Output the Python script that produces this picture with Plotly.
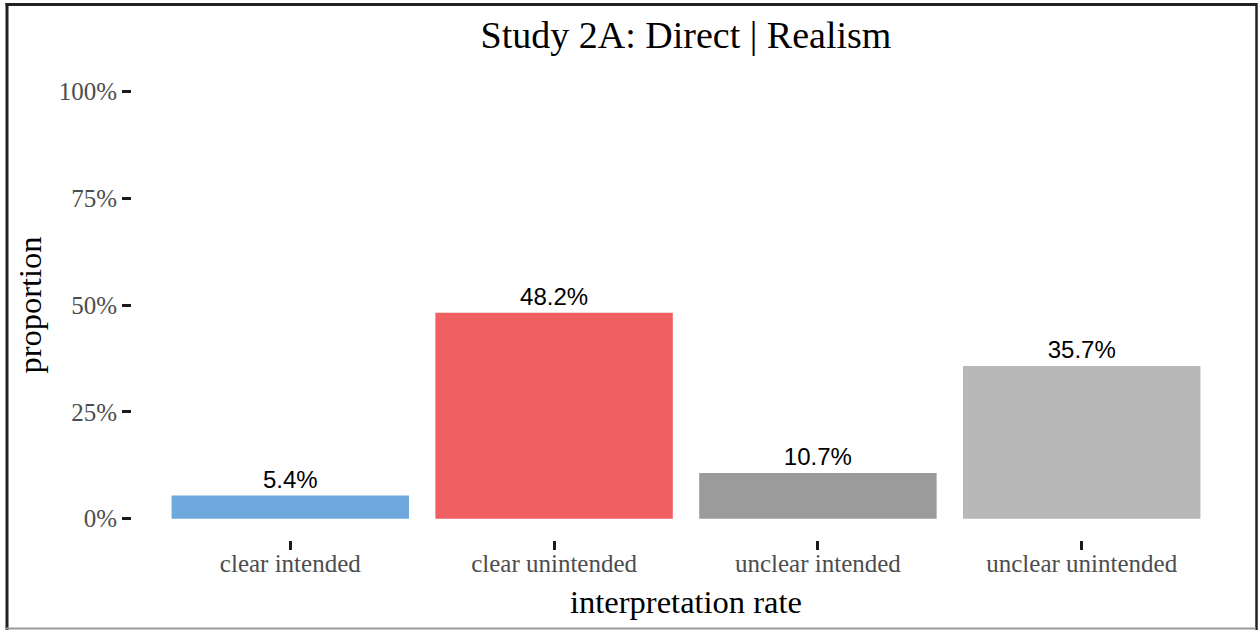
import plotly.graph_objects as go

categories = ["clear intended", "clear unintended", "unclear intended", "unclear unintended"]
proportions = [0.054, 0.482, 0.107, 0.357]
bar_colors = ["#6FA8DC", "#F06062", "#9B9B9B", "#B8B8B8"]
y_tick_vals = [0, 0.25, 0.5, 0.75, 1.0]
y_tick_text = ["0%", "25%", "50%", "75%", "100%"]
title_text = "Study 2A: Direct | Realism"

W, H = 1259, 630
ML, MT = 132, 70
PR, PB = 1240, 540
MR, MB = W - PR, H - PB
PW, PH = PR - ML, PB - MT

def px_x(p):
    return (p - ML) / PW

def px_y(p):
    return (PB - p) / PH

serif = "Liberation Serif, Times New Roman, serif"
sans = "Liberation Sans, Arial, sans-serif"

fig = go.Figure()
fig.add_trace(go.Bar(
    x=categories,
    y=proportions,
    width=0.9,
    marker=dict(color=bar_colors, line=dict(width=0)),
    text=[f"{v*100:.1f}%" for v in proportions],
    textposition="outside",
    textfont=dict(family=sans, size=24, color="black"),
    cliponaxis=False,
    hoverinfo="skip",
))

border = [
    (5.5, 4.5, 1257, 4.5, "#222222", 3),
    (7, 3, 7, 630, "#222222", 3),
    (1256.5, 3, 1256.5, 630, "#222222", 2.5),
    (6, 628.5, 1256, 628.5, "#9a9a9a", 2),
]
shapes = [
    dict(type="line", xref="paper", yref="paper",
         x0=px_x(a), y0=px_y(b), x1=px_x(c), y1=px_y(d),
         line=dict(color=col, width=w))
    for a, b, c, d, col, w in border
]

fig.update_layout(
    width=W, height=H,
    margin=dict(l=ML, r=MR, t=MT, b=MB, autoexpand=False),
    paper_bgcolor="white", plot_bgcolor="white",
    showlegend=False,
    title=dict(text=title_text, x=0.5, xref="paper", xanchor="center",
               y=1 - 35 / H, yref="container", yanchor="middle",
               font=dict(family=serif, size=38, color="black")),
    shapes=shapes,
    xaxis=dict(
        range=[-0.6, 3.6], showgrid=False, zeroline=False, showline=False,
        ticks="outside", ticklen=9, tickwidth=3, tickcolor="#1a1a1a",
        tickfont=dict(family=serif, size=25, color="#4d4d4d"),
        ticklabelstandoff=-8,
        title=dict(text="interpretation rate", standoff=14,
                   font=dict(family=serif, size=32.5, color="black")),
        fixedrange=True,
    ),
    yaxis=dict(
        range=[-0.05, 1.05], showgrid=False, zeroline=False, showline=False,
        tickvals=y_tick_vals, ticktext=y_tick_text,
        ticks="outside", ticklen=9, tickwidth=3, tickcolor="#1a1a1a",
        tickfont=dict(family=serif, size=25, color="#4d4d4d"),
        ticklabelstandoff=0,
        title=dict(text="proportion", standoff=7,
                   font=dict(family=serif, size=32.5, color="black")),
        fixedrange=True,
    ),
)

fig.write_html(
    "out.html",
    config={"displayModeBar": False},
    post_script="document.body.style.margin='0';document.body.style.overflow='hidden';",
)
